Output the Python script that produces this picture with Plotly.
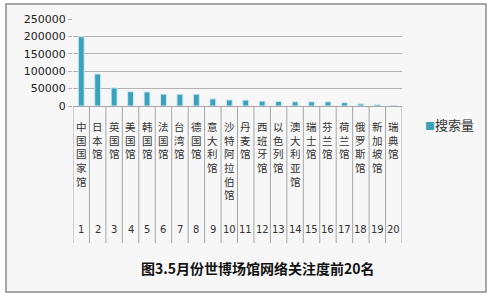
import plotly.graph_objects as go

ranks = [str(i) for i in range(1, 21)]
names = ["中国国家馆", "日本馆", "英国馆", "美国馆", "韩国馆", "法国馆", "台湾馆", "德国馆",
         "意大利馆", "沙特阿拉伯馆", "丹麦馆", "西班牙馆", "以色列馆", "澳大利亚馆", "瑞士馆",
         "芬兰馆", "荷兰馆", "俄罗斯馆", "新加坡馆", "瑞典馆"]
values = [199000, 92000, 52000, 41000, 40500, 34000, 34000, 34000, 20500, 17500,
          17000, 14000, 13500, 12000, 12000, 12000, 9500, 6000, 4000, 2000]
yticks = [0, 50000, 100000, 150000, 200000, 250000]
series_name = "搜索量"
bar_color = "#3aa2bd"

W, H = 491, 296
L, R, T, B = 73, 89, 19, 190
pw, ph = W - L - R, H - T - B

def px(x):
    return (x - L) / pw

def py(y):
    return (H - B - y) / ph

fig = go.Figure()
fig.add_trace(go.Bar(x=list(range(1, 21)), y=values, name=series_name,
                     marker=dict(color=bar_color, line=dict(color="#d2eaf1", width=1)),
                     width=0.36, showlegend=False))

shapes = [dict(type="rect", xref="paper", yref="paper", x0=px(6), x1=px(486), y0=py(292), y1=py(4),
               fillcolor="#f7f7f7", line=dict(color="#8c8c8c", width=1.5), layer="below")]
for i in range(len(names) + 1):
    shapes.append(dict(type="line", xref="x", yref="paper", x0=i + 0.5, x1=i + 0.5,
                       y0=py(243), y1=0, line=dict(color="#a6a6a6", width=1)))

annotations = []
for i, (n, r) in enumerate(zip(names, ranks)):
    annotations.append(dict(x=i + 1, xref="x", y=py(117), yref="paper", yanchor="top",
                            text="<br>".join(list(n)), showarrow=False,
                            font=dict(family="Noto Sans CJK SC", size=10.5, color="#333333")))
    annotations.append(dict(x=i + 1, xref="x", y=py(229), yref="paper", yanchor="middle",
                            text=r, showarrow=False,
                            font=dict(family="DejaVu Sans", size=10, color="#333333")))
annotations.append(dict(x=px(258), xref="paper", y=py(268), yref="paper", xanchor="center",
                        yanchor="middle", text="<b>图3.5月份世博场馆网络关注度前20名</b>",
                        showarrow=False, font=dict(family="Noto Sans CJK SC", size=14, color="#111111")))
# legend
annotations.append(dict(x=px(423), xref="paper", y=py(124), yref="paper", xanchor="left",
                        yanchor="middle", showarrow=False,
                        text=f"<span style='color:{bar_color}; font-size:10px'>■</span>{series_name}",
                        font=dict(family="Noto Sans CJK SC", size=13, color="#333333")))

fig.update_layout(
    width=W, height=H, margin=dict(l=L, r=R, t=T, b=B),
    paper_bgcolor="white", plot_bgcolor="rgba(0,0,0,0)",
    showlegend=False,
    shapes=shapes, annotations=annotations,
    xaxis=dict(range=[0.5, 20.5], showticklabels=False, showgrid=False, zeroline=False,
               showline=True, linecolor="#a6a6a6"),
    yaxis=dict(range=[0, 250000], tickvals=yticks, ticktext=[str(v) for v in yticks],
               showgrid=True, gridcolor="#b3b3b3", gridwidth=1, zeroline=False,
               showline=False, ticks="outside", ticklen=4, tickcolor="#b3b3b3",
               tickfont=dict(family="DejaVu Sans", size=11, color="#222222")),
)

fig.write_html("out.html")
